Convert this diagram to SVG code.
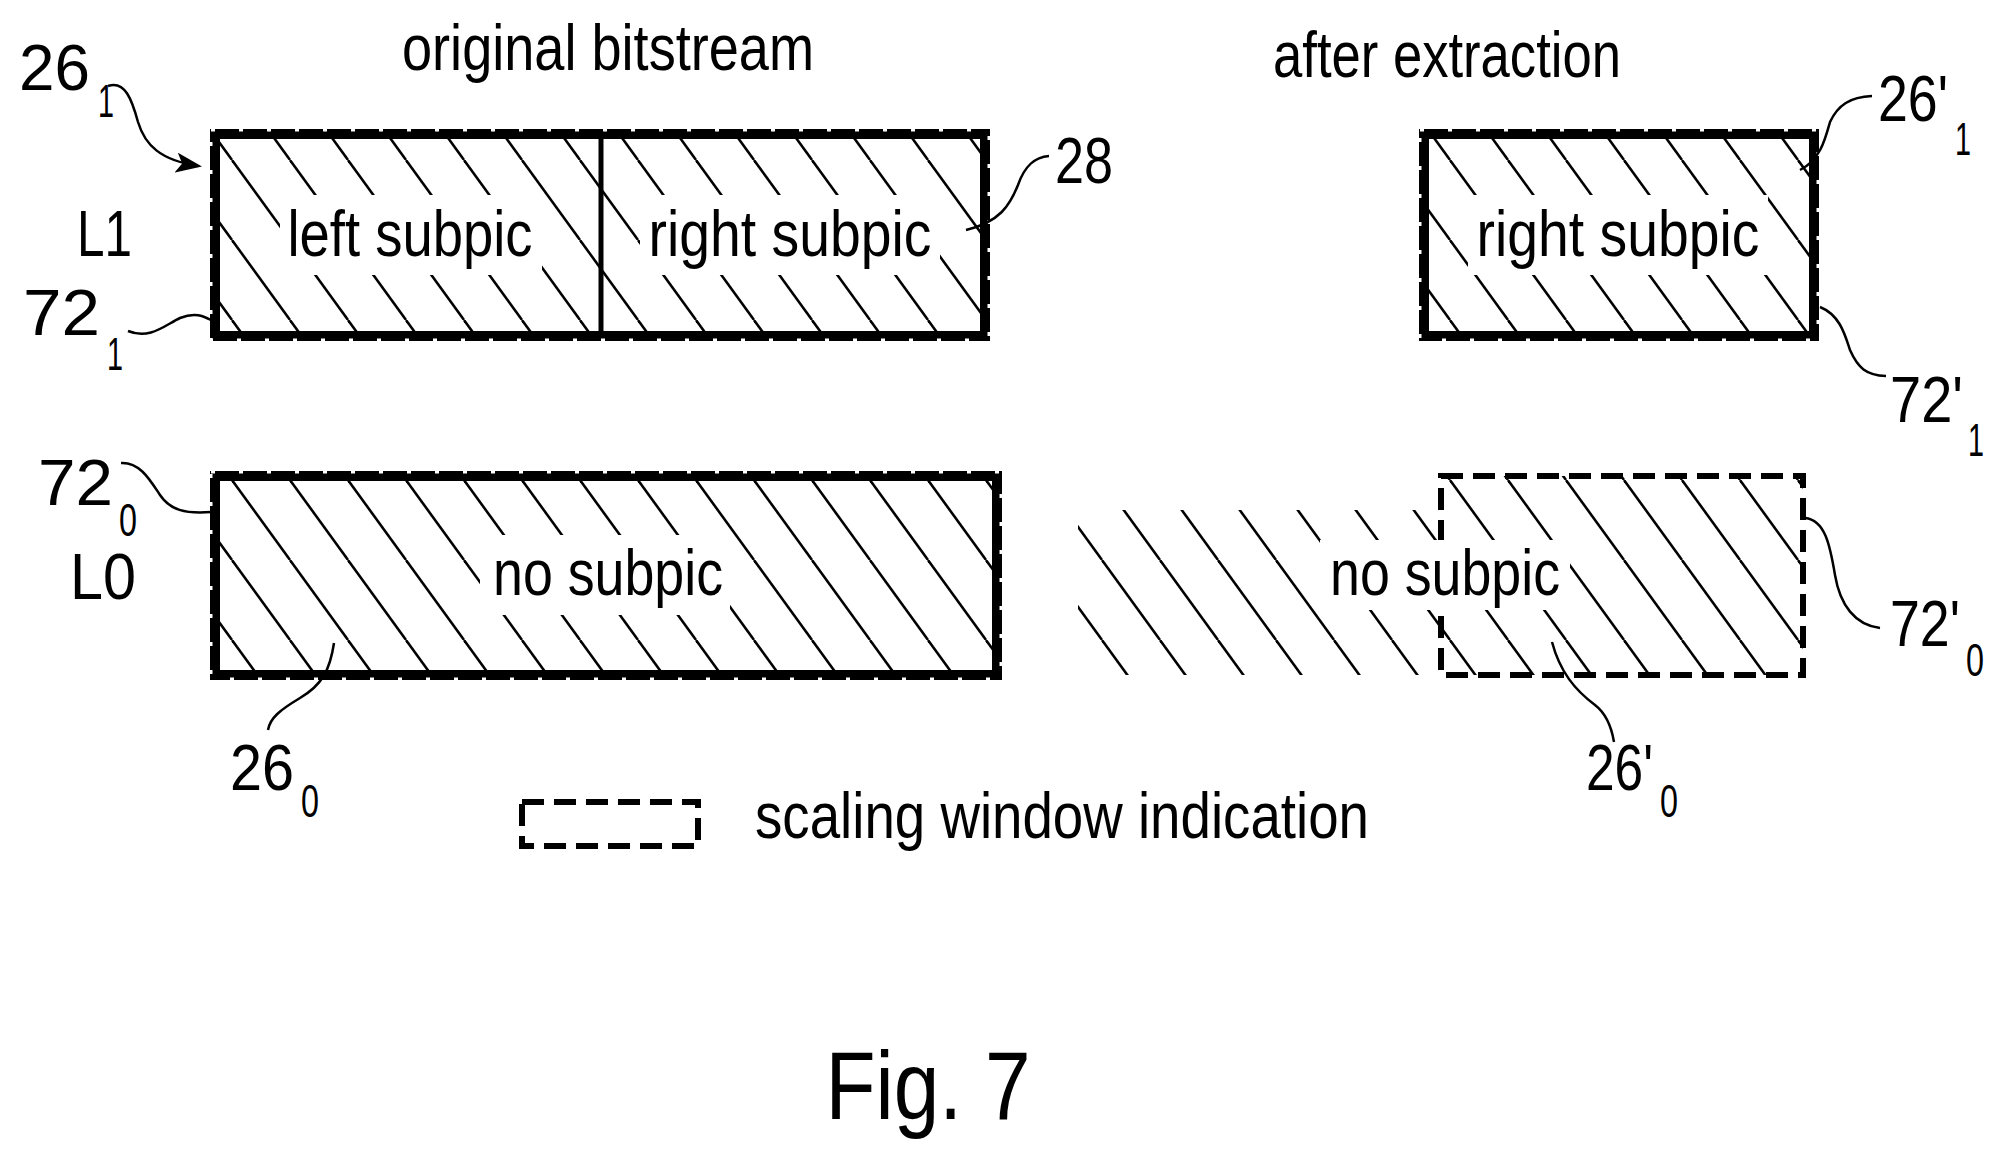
<svg xmlns="http://www.w3.org/2000/svg" width="1995" height="1155" viewBox="0 0 1995 1155">
<defs>
<pattern id="hatch" patternUnits="userSpaceOnUse" width="58" height="80">
<line x1="0" y1="0" x2="58" y2="80" stroke="#000" stroke-width="2.5"/>
<line x1="-58" y1="0" x2="0" y2="80" stroke="#000" stroke-width="2.5"/>
<line x1="58" y1="0" x2="116" y2="80" stroke="#000" stroke-width="2.5"/>
</pattern>
<marker id="arr" markerWidth="26" markerHeight="20" refX="22" refY="10" orient="auto" markerUnits="userSpaceOnUse" viewBox="0 0 26 20"><path d="M0,0 L26,10 L0,20 L6,10 Z" fill="#000"/></marker>
</defs>
<style>
text{font-family:"Liberation Sans","DejaVu Sans",sans-serif;fill:#000}
.lbl{font-size:64px}
.ref{font-size:64px}
.sub{font-size:46px}
.thick{fill:none;stroke:#000;stroke-width:10}
.notch{fill:none;stroke:#fff;stroke-width:3;stroke-dasharray:4 24}
.lead{fill:none;stroke:#000;stroke-width:2.5}
.bg{fill:#fff}
</style>
<rect width="1995" height="1155" fill="#fff"/>
<text class="lbl" x="608" y="70" text-anchor="middle" textLength="412" lengthAdjust="spacingAndGlyphs">original bitstream</text>
<text class="lbl" x="1447" y="77" text-anchor="middle" textLength="348" lengthAdjust="spacingAndGlyphs">after extraction</text>
<text class="lbl" x="77" y="256" textLength="55" lengthAdjust="spacingAndGlyphs">L1</text>
<text class="lbl" x="70" y="599" textLength="66" lengthAdjust="spacingAndGlyphs">L0</text>

<g id="l1-orig">
<rect x="215" y="134" width="770" height="202" fill="url(#hatch)"/>
<rect class="bg" x="280" y="195" width="262" height="80"/>
<rect class="bg" x="640" y="195" width="300" height="80"/>
<rect class="thick" x="215" y="134" width="770" height="202"/>
<rect class="notch" x="211" y="130" width="778" height="210"/>
<line x1="601" y1="134" x2="601" y2="336" stroke="#000" stroke-width="5"/>
<text class="lbl" x="410" y="256" text-anchor="middle" textLength="245" lengthAdjust="spacingAndGlyphs">left subpic</text>
<text class="lbl" x="790" y="256" text-anchor="middle" textLength="283" lengthAdjust="spacingAndGlyphs">right subpic</text>
</g>

<g id="l1-extr">
<rect x="1424" y="134" width="390" height="202" fill="url(#hatch)"/>
<rect class="bg" x="1468" y="195" width="300" height="80"/>
<rect class="thick" x="1424" y="134" width="390" height="202"/>
<rect class="notch" x="1420" y="130" width="398" height="210"/>
<text class="lbl" x="1618" y="256" text-anchor="middle" textLength="283" lengthAdjust="spacingAndGlyphs">right subpic</text>
</g>

<g id="l0-orig">
<rect x="215" y="476" width="782" height="199" fill="url(#hatch)"/>
<rect class="bg" x="480" y="535" width="250" height="80"/>
<rect class="thick" x="215" y="476" width="782" height="199"/>
<rect class="notch" x="211" y="472" width="790" height="207"/>
<text class="lbl" x="608" y="595" text-anchor="middle" textLength="230" lengthAdjust="spacingAndGlyphs">no subpic</text>
</g>

<g id="l0-extr">
<rect x="1078" y="476" width="725" height="199" fill="url(#hatch)"/>
<rect x="1078" y="470" width="363" height="40" fill="#fff"/>
<rect x="1441" y="476" width="362" height="199" fill="none" stroke="#000" stroke-width="6" stroke-dasharray="22 10"/>
<rect class="bg" x="1320" y="540" width="250" height="70"/>
<text class="lbl" x="1445" y="595" text-anchor="middle" textLength="230" lengthAdjust="spacingAndGlyphs">no subpic</text>
</g>

<g id="legend">
<rect x="522" y="802" width="176" height="44" fill="none" stroke="#000" stroke-width="6" stroke-dasharray="22 10"/>
<text class="lbl" x="755" y="838" textLength="614" lengthAdjust="spacingAndGlyphs">scaling window indication</text>
</g>

<g id="refs">
<text class="ref" x="19" y="90" textLength="71" lengthAdjust="spacingAndGlyphs">26</text><text class="sub" x="98" y="117" textLength="16" lengthAdjust="spacingAndGlyphs">1</text>
<text class="ref" x="1055" y="183" textLength="58" lengthAdjust="spacingAndGlyphs">28</text>
<text class="ref" x="23" y="335" textLength="77" lengthAdjust="spacingAndGlyphs">72</text><text class="sub" x="107" y="370" textLength="16" lengthAdjust="spacingAndGlyphs">1</text>
<text class="ref" x="1878" y="121" textLength="70" lengthAdjust="spacingAndGlyphs">26'</text><text class="sub" x="1955" y="155" textLength="16" lengthAdjust="spacingAndGlyphs">1</text>
<text class="ref" x="1890" y="422" textLength="73" lengthAdjust="spacingAndGlyphs">72'</text><text class="sub" x="1968" y="456" textLength="16" lengthAdjust="spacingAndGlyphs">1</text>
<text class="ref" x="38" y="505" textLength="75" lengthAdjust="spacingAndGlyphs">72</text><text class="sub" x="119" y="536" textLength="18" lengthAdjust="spacingAndGlyphs">0</text>
<text class="ref" x="230" y="790" textLength="64" lengthAdjust="spacingAndGlyphs">26</text><text class="sub" x="301" y="817" textLength="18" lengthAdjust="spacingAndGlyphs">0</text>
<text class="ref" x="1890" y="646" textLength="70" lengthAdjust="spacingAndGlyphs">72'</text><text class="sub" x="1966" y="676" textLength="18" lengthAdjust="spacingAndGlyphs">0</text>
<text class="ref" x="1586" y="790" textLength="67" lengthAdjust="spacingAndGlyphs">26'</text><text class="sub" x="1660" y="817" textLength="18" lengthAdjust="spacingAndGlyphs">0</text>
<text x="928" y="1119" text-anchor="middle" font-size="96" textLength="205" lengthAdjust="spacingAndGlyphs">Fig. 7</text>
</g>

<g id="connectors">
<path class="lead" d="M108,86 C125,80 132,100 138,122 C145,145 160,160 198,166" marker-end="url(#arr)" stroke-width="3"/>
<path class="lead" d="M966,230 C1000,222 1010,205 1018,185 C1025,165 1035,157 1049,156"/>
<path class="lead" d="M128,331 C150,340 165,325 180,318 C195,312 203,316 211,320"/>
<path class="lead" d="M1800,170 C1820,160 1825,140 1830,122 C1838,105 1850,97 1872,96"/>
<path class="lead" d="M1820,307 C1840,315 1845,335 1850,350 C1858,368 1866,375 1886,376"/>
<path class="lead" d="M121,463 C140,462 150,480 160,495 C170,510 185,514 211,512"/>
<path class="lead" d="M334,643 C330,670 322,685 300,698 C280,710 270,718 268,730"/>
<path class="lead" d="M1805,518 C1825,520 1830,545 1835,575 C1840,605 1855,625 1880,628"/>
<path class="lead" d="M1552,642 C1560,672 1575,690 1595,705 C1608,715 1612,730 1614,742"/>
</g>
</svg>
